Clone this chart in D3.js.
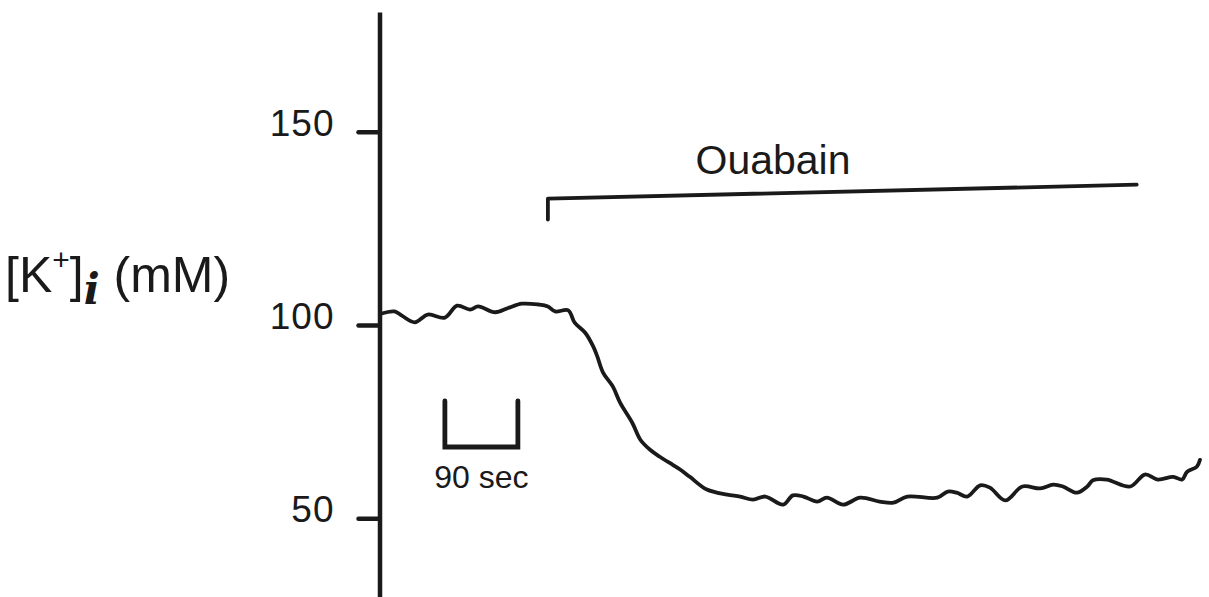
<!DOCTYPE html>
<html>
<head>
<meta charset="utf-8">
<script src="https://cdn.jsdelivr.net/npm/d3@7"></script>
<style>
  html, body { margin: 0; padding: 0; background: #ffffff; }
  svg { display: block; }
  text { font-family: "Liberation Sans", Arial, Helvetica, sans-serif; fill: #1a1a1a; }
</style>
</head>
<body>
<svg id="chart" width="1209" height="597"></svg>
<script>
// ---- Data (time in seconds, [K+]i in mM) ----
const timeSec = [1, 18, 27, 43, 59, 80, 95, 111, 121, 142, 158, 175, 195, 207, 216, 232, 240, 253, 263, 268,
  275, 287, 296, 311, 321, 333, 345, 361, 370, 382, 403, 428, 444, 460, 475, 497, 509, 522, 539, 551,
  571, 592, 616, 633, 650, 687, 700, 711, 724, 740, 752, 771, 792, 814, 830, 842, 859, 872, 879, 896,
  925, 943, 959, 978, 989, 995, 1007, 1011];
const potassium = [102.9, 103.5, 102.4, 100.7, 102.7, 101.9, 105.0, 104.0, 104.8, 103.3, 104.4, 105.5, 105.3, 104.8, 103.5, 103.8, 100.6, 98.0, 94.4, 91.8,
  87.7, 84.1, 79.9, 74.7, 70.3, 67.7, 65.9, 63.8, 62.6, 60.7, 57.4, 56.1, 55.6, 54.8, 55.6, 53.5, 55.9, 55.6, 54.3, 55.3,
  53.5, 55.3, 54.3, 54.0, 55.6, 55.3, 56.9, 56.6, 55.6, 58.5, 57.9, 54.6, 58.2, 57.7, 58.7, 58.2, 56.6, 58.2, 59.8, 60.0,
  58.2, 61.3, 60.0, 60.7, 60.0, 62.0, 63.3, 65.1];
const yTicks = [50, 100, 150];
const yLabelMain = "[K";
const yLabelSup = "+";
const yLabelSub = "i";
const yLabelUnit = " (mM)";
const drugLabel = "Ouabain";
const drugStartSec = 207;
const drugEndSec = 933;
const drugLevelStart = 132.7;
const drugLevelEnd = 136.3;
const drugTickLevel = 127.3;
const scaleBarStartSec = 80;
const scaleBarSec = 90;
const scaleBarLabel = "90 sec";

// ---- Layout ----
const svg = d3.select("#chart");
const ink = "#1a1a1a";

const x = d3.scaleLinear().domain([0, 1011]).range([380, 1200]);
const y = d3.scaleLinear().domain([29.6, 181]).range([597, 12]);

// Y axis
const axisG = svg.append("g")
  .attr("transform", "translate(379.5,0)")
  .call(d3.axisLeft(y).tickValues(yTicks).tickSize(21).tickPadding(24).tickSizeOuter(0)
        .tickFormat(d3.format("d")));
axisG.select(".domain").attr("stroke", ink).attr("stroke-width", 4.5);
axisG.selectAll(".tick line").attr("stroke", ink).attr("stroke-width", 4.5).attr("stroke-linecap", "round");
axisG.selectAll(".tick text")
  .attr("fill", ink)
  .attr("font-size", 37)
  .attr("letter-spacing", 1)
  .attr("font-family", "'Liberation Sans', Arial, sans-serif")
  .attr("dy", "0.1em");

// Y label
const yl = svg.append("text")
  .attr("x", 5).attr("y", 292)
  .attr("font-size", 50);
yl.append("tspan").text(yLabelMain);
yl.append("tspan").attr("font-size", 30).attr("dy", -22).text(yLabelSup);
yl.append("tspan").attr("font-size", 50).attr("dy", 22).text("]");
yl.append("tspan").attr("font-size", 42).attr("dy", 12)
  .attr("font-family", "'DejaVu Serif', serif").attr("font-style", "italic").attr("font-weight", "bold")
  .text(yLabelSub);
yl.append("tspan").attr("font-size", 50).attr("dy", -12).text(yLabelUnit);

// Trace
const data = timeSec.map((t, i) => ({ t, v: potassium[i] }));
const line = d3.line().x(d => x(d.t)).y(d => y(d.v)).curve(d3.curveCatmullRom.alpha(0.5));
svg.append("path")
  .datum(data)
  .attr("d", line)
  .attr("fill", "none")
  .attr("stroke", ink)
  .attr("stroke-width", 3.8)
  .attr("stroke-linejoin", "round")
  .attr("stroke-linecap", "round");

// Ouabain bracket
svg.append("path")
  .attr("d", d3.line()([
    [x(drugStartSec), y(drugTickLevel)],
    [x(drugStartSec), y(drugLevelStart)],
    [x(drugEndSec), y(drugLevelEnd)]
  ]))
  .attr("fill", "none").attr("stroke", ink).attr("stroke-width", 3.8)
  .attr("stroke-linecap", "round").attr("stroke-linejoin", "round");
svg.append("text")
  .attr("x", 773).attr("y", 174)
  .attr("text-anchor", "middle")
  .attr("font-size", 41)
  .text(drugLabel);

// Scale bar
const sx0 = x(scaleBarStartSec), sx1 = x(scaleBarStartSec + scaleBarSec);
svg.append("path")
  .attr("d", d3.line()([[sx0, 401], [sx0, 447], [sx1, 447], [sx1, 401]]))
  .attr("fill", "none").attr("stroke", ink).attr("stroke-width", 4.8)
  .attr("stroke-linecap", "round").attr("stroke-linejoin", "miter");
svg.append("text")
  .attr("x", (sx0 + sx1) / 2).attr("y", 488)
  .attr("text-anchor", "middle")
  .attr("font-size", 32)
  .text(scaleBarLabel);
</script>
</body>
</html>
